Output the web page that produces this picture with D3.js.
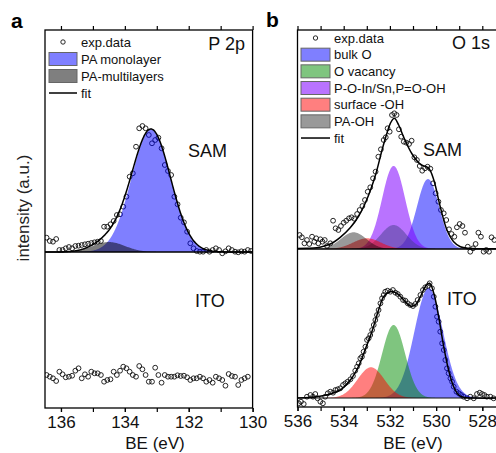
<!DOCTYPE html>
<html>
<head>
<meta charset="utf-8">
<script src="https://cdn.jsdelivr.net/npm/d3@7"></script>
<style>
  body { margin: 0; background: #fff; }
  svg { display: block; font-family: "Liberation Sans", Arial, sans-serif; }
</style>
</head>
<body>
<svg id="chart" width="496" height="453"></svg>
<script>
// ---------- P 2p region (eV grid: 0.1 eV steps from 136.45 eV) ----------
const p2pStart = 136.45, p2pStep = 0.1;
const p2pSam = [14.3, 11.0, 10.3, 13.0, 2.0, 2.0, 3.7, 5.0, 3.7, 6.0,
  6.3, 7.0, 7.7, 8.3, 9.0, 9.7, 10.3, 11.0, 25.3, 25.3,
  27.7, 31.0, 37.0, 37.7, 45.3, 55.3, 75.3, 78.7, 105.3, 123.7,
  126.0, 123.7, 117.0, 108.7, 112.0, 114.3, 103.7, 87.0, 81.0, 77.0,
  55.3, 47.7, 34.3, 29.7, 20.3, 8.7, 3.7, 1.0, 0.3, 0.3,
  2.0, 0.3, 2.0, 3.7, 2.0, -1.3, 0.7, 3.7, 2.0, 0.3,
  -0.3, 0.7, 0.3, 2.0, 1.0];
const p2pIto = [33.0, 31.3, 29.7, 27.0, 36.3, 33.7, 30.7, 31.3, 32.3, 37.3,
  39.7, 29.7, 33.7, 31.3, 36.3, 34.7, 34.7, 33.0, 26.3, 28.0,
  28.7, 36.3, 33.0, 37.3, 41.3, 39.7, 36.3, 33.0, 31.3, 42.0,
  38.7, 33.0, 26.3, 26.3, 40.3, 33.0, 25.3, 33.0, 31.3, 31.3,
  31.3, 32.7, 32.0, 32.3, 30.7, 28.0, 29.7, 29.7, 31.3, 29.7,
  26.3, 28.0, 25.3, 31.3, 29.7, 28.0, 22.3, 34.0, 32.0, 31.3,
  23.0, 28.0, 29.7, 31.3];
// fitted P 2p components: name, centre (eV), height, sigma (eV)
const p2pNames = ["PA monolayer", "PA-multilayers"];
const p2pCenters = [133.18, 134.5];
const p2pHeights = [122.7, 10.0];
const p2pSigmas = [0.61, 0.5];

// ---------- O 1s region: [binding energy eV, intensity] ----------
const o1sSam = [[535.91,14.0],[535.81,11.7],[535.70,5.7],[535.59,9.0],[535.49,5.0],[535.37,12.3],
  [535.27,7.3],[535.19,10.7],[535.10,5.7],[535.01,9.7],[534.92,7.3],[534.82,9.0],[534.72,3.0],
  [534.58,5.7],[534.46,28.3],[534.35,20.7],[534.23,19.0],[534.12,23.0],[534.00,26.3],[533.89,28.3],
  [533.77,30.7],[533.66,31.7],[533.54,30.3],[533.42,35.0],[533.31,39.0],[533.19,43.0],[533.08,49.0],
  [532.96,57.3],[532.85,61.7],[532.73,70.7],[532.62,77.3],[532.50,92.3],[532.39,99.7],[532.27,109.0],
  [532.18,111.7],[532.10,120.7],[532.01,117.3],[531.91,134.0],[531.81,135.7],[531.71,134.0],
  [531.61,119.7],[531.51,112.3],[531.40,107.3],[531.29,106.3],[531.17,105.0],[531.06,108.3],
  [530.94,91.7],[530.83,89.0],[530.71,83.0],[530.60,78.3],[530.48,80.7],[530.37,82.3],[530.25,80.3],
  [530.13,65.7],[530.02,55.7],[529.90,47.3],[529.79,39.0],[529.67,35.7],[529.56,29.0],[529.44,19.7],
  [529.33,15.0],[529.21,12.3],[529.10,21.7],[528.98,25.0],[528.86,23.0],[528.75,16.3],[528.63,2.3],
  [528.52,-2.7],[528.40,0.7],[528.29,5.0],[528.17,16.3],[528.06,12.3],[527.94,-2.7],[527.83,-1.0],
  [527.71,-2.7],[527.60,11.7],[527.48,9.0]];
const o1sSamFit = [[536.0,0.5],[535.59,0.7],[535.16,1.3],[534.58,5.0],[534.15,11.7],[533.71,21.5],
  [533.35,33.0],[532.99,50.0],[532.63,73.5],[532.34,99.0],[532.13,115.7],[531.98,125.7],[531.81,130.7],
  [531.62,124.0],[531.40,111.7],[531.04,95.0],[530.68,84.7],[530.32,80.7],[530.10,69.0],[529.82,42.3],
  [529.53,19.0],[529.24,7.3],[528.95,2.3],[528.59,0.7],[527.0,0.3]];
const o1sIto = [[535.95,-5.3],[535.85,-3.7],[535.73,-6.0],[535.59,1.3],[535.44,3.0],[535.33,1.3],
  [535.23,4.0],[535.13,-0.3],[535.01,-3.7],[534.90,-5.3],[534.80,1.3],[534.69,4.7],[534.58,6.3],
  [534.46,5.3],[534.36,8.0],[534.26,8.7],[534.15,9.7],[534.03,13.0],[533.93,14.7],[533.83,16.3],
  [533.71,18.7],[533.60,22.0],[533.50,27.3],[533.42,31.3],[533.35,34.7],[533.28,39.7],[533.21,41.3],
  [533.14,46.3],[533.06,51.3],[532.99,58.0],[532.92,59.7],[532.85,63.0],[532.77,68.0],[532.70,73.0],
  [532.63,78.0],[532.56,83.0],[532.49,88.0],[532.41,94.7],[532.34,99.7],[532.27,103.0],[532.20,106.3],
  [532.10,107.3],[531.98,106.3],[531.87,108.0],[531.76,105.3],[531.66,104.0],[531.55,101.3],
  [531.43,98.0],[531.33,97.3],[531.23,94.7],[531.12,93.0],[531.00,92.0],[530.90,94.0],[530.80,98.0],
  [530.68,103.0],[530.57,108.0],[530.47,110.7],[530.36,112.0],[530.28,114.7],[530.18,109.7],
  [530.10,101.3],[530.03,91.3],[529.96,81.3],[529.89,76.3],[529.82,66.3],[529.74,54.7],[529.67,48.0],
  [529.60,38.0],[529.53,29.7],[529.46,24.7],[529.38,19.7],[529.31,16.3],[529.24,11.3],[529.12,6.3],
  [529.02,4.7],[528.92,3.0],[528.81,1.3],[528.66,-0.3],[528.52,1.3],[528.37,-0.3],[528.23,4.0],
  [528.11,5.3],[528.01,4.0],[527.91,3.0],[527.80,1.3],[527.65,1.3],[527.51,-0.3]];
const o1sItoFit = [[536.0,0],[535.16,1.3],[534.58,4.0],[534.15,8.0],[533.71,18.0],[533.35,32.0],
  [533.06,49.0],[532.77,67.0],[532.49,88.0],[532.27,101.3],[531.98,106.3],[531.69,104.7],[531.40,98.0],
  [531.12,92.0],[530.90,93.0],[530.68,101.3],[530.47,111.3],[530.28,114.7],[530.10,104.7],[529.89,81.3],
  [529.67,51.3],[529.46,28.0],[529.24,11.3],[529.02,3.0],[528.81,0.7],[528.37,0],[527.0,0]];
// fitted O 1s components (same order in both samples)
const o1sNames = ["bulk O", "O vacancy", "P-O-In/Sn,P=O-OH", "surface -OH", "PA-OH"];
const o1sSamCenters = [530.35, 531.84, 531.84, 532.99, 533.57];
const o1sSamHeights = [70.0, 24.0, 83.0, 10.7, 16.7];
const o1sSamSigmas  = [0.48, 0.55, 0.50, 0.60, 0.55];
const o1sItoCenters = [530.32, 531.84, null, 532.82, null];
const o1sItoHeights = [109.7, 73.0, 0, 30.7, 0];
const o1sItoSigmas  = [0.62, 0.50, 0.5, 0.58, 0.5];

// ---------- tick labels ----------
const p2pTicks = [136, 134, 132, 130];
const o1sTicks = [536, 534, 532, 530, 528];

// ---------- styling ----------
const p2pColors = ["rgba(0,0,255,0.5)", "rgba(0,0,0,0.5)"];
const o1sColors = ["rgba(0,0,255,0.5)", "rgba(0,140,0,0.5)", "rgba(128,0,255,0.55)",
                   "rgba(255,0,0,0.5)", "rgba(0,0,0,0.4)"];

const svg = d3.select("#chart");
const gauss = (c, h, s) => e => h * Math.exp(-0.5 * ((e - c) / s) ** 2);

function drawPanel(cfg) {
  const g = svg.append("g");
  const x = d3.scaleLinear().domain(cfg.domain).range([cfg.left, cfg.right]);
  const yTop = d3.scaleLinear().domain(cfg.topDomain).range([cfg.mid, cfg.top]);
  const yBot = d3.scaleLinear().domain(cfg.botDomain).range([cfg.bottom, cfg.mid]);
  const clipId = "clip" + cfg.id;
  svg.append("clipPath").attr("id", clipId).append("rect")
    .attr("x", cfg.left).attr("y", cfg.top - 5)
    .attr("width", cfg.right - cfg.left).attr("height", cfg.bottom - cfg.top + 10);
  const plot = g.append("g").attr("clip-path", `url(#${clipId})`);
  const grid = d3.range(cfg.domain[0], cfg.domain[1] - 0.001, -0.02);

  cfg.stacks.forEach(st => {
    const y = st.pos === "top" ? yTop : yBot;
    // measured points
    plot.append("g").selectAll("circle").data(st.points).join("circle")
      .attr("cx", d => x(d[0])).attr("cy", d => y(d[1])).attr("r", 2.4)
      .attr("fill", "none").attr("stroke", "#111").attr("stroke-width", 0.9);
    // fitted components
    st.peaks.forEach((p, i) => {
      if (!p.h) return;
      const f = gauss(p.c, p.h, p.s);
      const area = d3.area().x(e => x(e)).y0(y(0)).y1(e => y(f(e)));
      plot.append("path").attr("d", area(grid)).attr("fill", p.color).attr("stroke", "none");
    });
    if (st.baseline) {
      plot.append("line").attr("x1", cfg.left).attr("x2", cfg.right)
        .attr("y1", y(0)).attr("y2", y(0)).attr("stroke", "#111").attr("stroke-width", 1.2);
    }
    // envelope
    if (st.fit) {
      const line = d3.line().x(d => x(d[0])).y(d => y(d[1])).curve(d3.curveCatmullRom.alpha(0.5));
      plot.append("path").attr("d", line(st.fit)).attr("fill", "none")
        .attr("stroke", "#000").attr("stroke-width", 1.5);
    }
  });

  // frame and divider
  g.append("rect").attr("x", cfg.left).attr("y", cfg.top)
    .attr("width", cfg.right - cfg.left).attr("height", cfg.bottom - cfg.top)
    .attr("fill", "none").attr("stroke", "#000").attr("stroke-width", 1.3);
  g.append("line").attr("x1", cfg.left).attr("x2", cfg.right)
    .attr("y1", cfg.mid).attr("y2", cfg.mid).attr("stroke", "#000").attr("stroke-width", 1.3);

  // axes
  const allTicks = d3.range(Math.ceil(cfg.domain[1]), Math.floor(cfg.domain[0]) + 1);
  const bottomMinor = g.append("g").attr("transform", `translate(0,${cfg.bottom})`)
    .call(d3.axisBottom(x).tickValues(allTicks).tickSize(4).tickFormat(""));
  const bottomMajor = g.append("g").attr("transform", `translate(0,${cfg.bottom})`)
    .call(d3.axisBottom(x).tickValues(cfg.ticks).tickSize(4).tickPadding(3.5).tickFormat(d3.format("d")));
  const top = g.append("g").attr("transform", `translate(0,${cfg.top})`)
    .call(d3.axisTop(x).tickValues(allTicks).tickSize(4).tickFormat(""));
  [bottomMinor, bottomMajor, top].forEach(a => {
    a.select(".domain").remove();
    a.selectAll("line").attr("stroke", "#000").attr("stroke-width", 1.2);
  });
  bottomMajor.selectAll("text").attr("font-size", 17).attr("fill", "#111")
    .attr("font-family", '"Liberation Sans", Arial, sans-serif');

  g.append("text").attr("x", cfg.xlabelX).attr("y", 449).attr("text-anchor", "middle")
    .attr("font-size", 17).attr("fill", "#111").text("BE (eV)");

  // legend
  const lg = g.append("g");
  const rows = cfg.legend;
  rows.forEach((r, i) => {
    const cy = cfg.legY + i * cfg.legStep;
    if (r.type === "pt") {
      lg.append("circle").attr("cx", cfg.legX + cfg.legW / 2).attr("cy", cy).attr("r", 2.2)
        .attr("fill", "none").attr("stroke", "#111").attr("stroke-width", 0.9);
    } else if (r.type === "box") {
      lg.append("rect").attr("x", cfg.legX).attr("y", cy - 6.5).attr("width", cfg.legW).attr("height", 13)
        .attr("fill", r.color).attr("stroke", "#666").attr("stroke-width", 1);
    } else {
      lg.append("line").attr("x1", cfg.legX).attr("x2", cfg.legX + cfg.legW)
        .attr("y1", cy).attr("y2", cy).attr("stroke", "#000").attr("stroke-width", 1.5);
    }
    lg.append("text").attr("x", cfg.legX + cfg.legW + 4).attr("y", cy + 4.6)
      .attr("font-size", 13).attr("fill", "#111").text(r.label);
  });

  cfg.notes.forEach(n => {
    g.append("text").attr("x", n.x).attr("y", n.y).attr("text-anchor", n.anchor || "start")
      .attr("font-size", 18).attr("fill", "#111").text(n.text);
  });
}

const p2pGridBE = p2pSam.map((_, i) => +(p2pStart - i * p2pStep).toFixed(2));
const p2pPeakObjs = p2pNames.map((n, i) => ({c: p2pCenters[i], h: p2pHeights[i], s: p2pSigmas[i], color: p2pColors[i]}));
const p2pFit = d3.range(136.5, 129.99, -0.02).map(e =>
  [e, p2pPeakObjs.reduce((s, p) => s + gauss(p.c, p.h, p.s)(e), 0)]);

drawPanel({
  id: "a", domain: [136.5, 130], left: 45, right: 252.6,
  top: 30, mid: 252, bottom: 408,
  topDomain: [0, 222], botDomain: [0, 156],
  ticks: p2pTicks, xlabelX: 155,
  stacks: [
    {pos: "top", points: p2pSam.map((v, i) => [p2pGridBE[i], v]),
     peaks: [p2pPeakObjs[0], p2pPeakObjs[1]], fit: p2pFit},
    {pos: "bot", points: p2pIto.map((v, i) => [p2pGridBE[i], v]), peaks: [], fit: null}
  ],
  legX: 49, legW: 28, legY: 42, legStep: 17,
  legend: [
    {type: "pt", label: "exp.data"},
    {type: "box", label: p2pNames[0], color: p2pColors[0]},
    {type: "box", label: p2pNames[1], color: p2pColors[1]},
    {type: "line", label: "fit"}
  ],
  notes: [
    {text: "P 2p", x: 245, y: 50, anchor: "end"},
    {text: "SAM", x: 188, y: 157},
    {text: "ITO", x: 195, y: 307}
  ]
});

const samPeaks = o1sNames.map((n, i) => ({c: o1sSamCenters[i], h: o1sSamHeights[i], s: o1sSamSigmas[i], color: o1sColors[i]}));
const itoPeaks = o1sNames.map((n, i) => ({c: o1sItoCenters[i], h: o1sItoHeights[i], s: o1sItoSigmas[i], color: o1sColors[i]}));

drawPanel({
  id: "b", domain: [536, 527], left: 297.5, right: 297.5 + 9 * 23.1,
  top: 30, mid: 249, bottom: 407,
  topDomain: [0, 219], botDomain: [-9, 149],
  ticks: o1sTicks, xlabelX: 413,
  stacks: [
    {pos: "top", points: o1sSam, peaks: samPeaks, fit: o1sSamFit},
    {pos: "bot", points: o1sIto, peaks: itoPeaks, fit: o1sItoFit, baseline: true}
  ],
  legX: 301, legW: 29, legY: 38, legStep: 16.67,
  legend: [
    {type: "pt", label: "exp.data"},
    ...o1sNames.map((n, i) => ({type: "box", label: n, color: o1sColors[i]})),
    {type: "line", label: "fit"}
  ],
  notes: [
    {text: "O 1s", x: 490, y: 49, anchor: "end"},
    {text: "SAM", x: 423, y: 156},
    {text: "ITO", x: 447, y: 305}
  ]
});

// shared y-axis title and panel letters
svg.append("text").attr("transform", "translate(28.5,208) rotate(-90)")
  .attr("text-anchor", "middle").attr("font-size", 17).attr("fill", "#222").text("intensity (a.u.)");
svg.append("text").attr("x", 11).attr("y", 28).attr("font-size", 21).attr("font-weight", "bold").text("a");
svg.append("text").attr("x", 266).attr("y", 27).attr("font-size", 21).attr("font-weight", "bold").text("b");
</script>
</body>
</html>
